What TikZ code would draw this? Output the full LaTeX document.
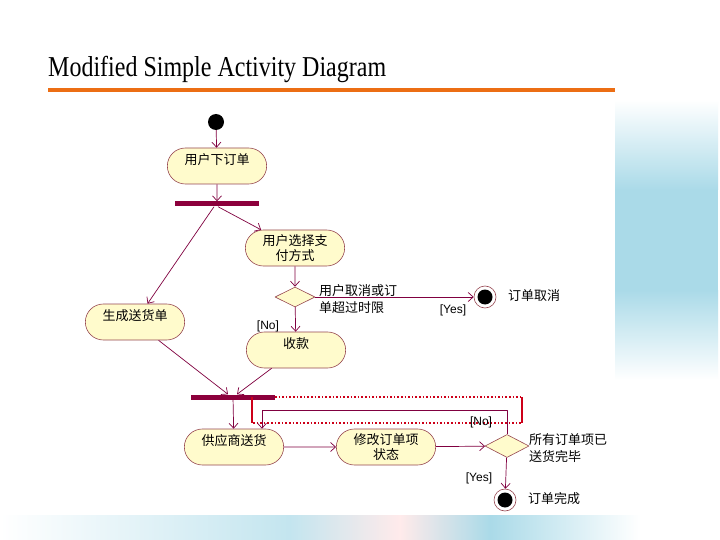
\documentclass[tikz,border=0pt]{standalone}
\usepackage{fontspec}
\setmainfont{Liberation Serif}
\newfontfamily\cjk{Noto Sans CJK SC}
\newfontfamily\lab{Liberation Sans}
\usepackage{tikz}
\usetikzlibrary{arrows.meta,shapes.geometric,shapes.misc}
\definecolor{flowc}{RGB}{128,0,64}
\definecolor{barc}{RGB}{140,0,60}
\definecolor{actfill}{RGB}{255,251,204}
\definecolor{actline}{RGB}{150,70,80}
\definecolor{hilite}{RGB}{205,0,25}
\definecolor{titleline}{RGB}{236,110,20}
\definecolor{skyc}{RGB}{170,218,232}

\begin{document}
\begin{tikzpicture}[x=1pt, y=-1pt, line join=round,
  act/.style={rounded rectangle, draw=actline, fill=actfill, line width=0.6pt,
    minimum width=106pt, minimum height=36pt, inner ysep=2pt,
    font=\cjk\fontsize{13}{15}\selectfont, align=center},
  upper/.style={text height=10pt, text depth=13pt},
  bar/.style={fill=barc, inner sep=0pt, minimum height=5pt},
  decision/.style={diamond, draw=actline, fill=actfill, line width=0.6pt, inner sep=0pt,
    minimum width=40pt, minimum height=20pt},
  startdot/.style={circle, fill=black, inner sep=0pt, minimum size=16pt},
  enddot/.style={circle, draw=actline, line width=0.6pt, fill=white, inner sep=0pt, minimum size=22pt,
    path picture={\fill[black] (path picture bounding box.center) circle (7.5pt);}},
  flow/.style={draw=flowc, line width=0.7pt, -{Straight Barb[length=5pt,width=9pt]}},
  guard/.style={font=\lab\fontsize{12}{14}\selectfont, inner sep=1pt},
  note/.style={font=\cjk\fontsize{13}{16.5}\selectfont, align=left, anchor=west, inner sep=0pt},
  hiline/.style={draw=hilite, line width=1.6pt, dotted},
  hibar/.style={draw=hilite, line width=2.2pt}]
  \useasboundingbox (0,0) rectangle (720,540);
  \fill[white] (0,0) rectangle (720,540);
  \shade[top color=white, bottom color=skyc] (612,100) rectangle (718,190);
  \fill[skyc] (612,190) rectangle (718,290);
  \shade[top color=skyc, bottom color=white] (612,290) rectangle (718,380);
  \shade[left color=white, right color=skyc!70] (0,515) rectangle (290,540);
  \shade[left color=skyc!70, right color=red!8] (290,515) rectangle (400,540);
  \shade[left color=red!8, right color=skyc] (400,515) rectangle (490,540);
  \shade[left color=skyc, right color=white] (490,515) rectangle (640,540);
  \fill[white] (80,100) rectangle (615,515);

  \node[anchor=base west, inner sep=0pt, yscale=1.2, transform shape, font=\fontsize{24}{28}\selectfont] (title) at (48,77) {Modified Simple Activity Diagram};
  \fill[titleline] (48,88) rectangle (615,92);

  \node[startdot] (start) at (216,122) {};
  \node[act, upper] (order) at (217,166) {用户下订单};
  \node[bar, minimum width=84pt] (fork1) at (217,204) {};
  \node[act] (pay) at (295,248) {用户选择支\\付方式};
  \node[act, upper] (ship) at (135,322) {生成送货单};
  \node[decision] (cancelq) at (295,297) {};
  \node[enddot] (cancelend) at (485,297) {};
  \node[act, upper] (collect) at (296,350) {收款};
  \node[bar, minimum width=84pt] (fork2) at (233,397) {};
  \node[act, upper] (supply) at (234,447) {供应商送货};
  \node[act] (modify) at (386,447) {修改订单项\\状态};
  \node[decision, minimum width=44pt, minimum height=23pt] (allq) at (507,446) {};
  \node[enddot] (doneend) at (505,500) {};
  \coordinate (loopc) at (262,410);

  \draw[hibar] (252,397) -- (252,423);
  \draw[hiline] (275,397) -- (522,397);
  \draw[hiline] (253,423) -- (522,423);
  \draw[hibar, line width=1.8pt] (522,397) -- (522,423);

  \draw[flow] (start) -- (order);
  \draw[flow] (order) -- (fork1);
  \draw[flow] ([xshift=1pt]fork1.south) -- (pay);
  \draw[flow] ([xshift=-3pt]fork1.south) -- (ship);
  \draw[flow] (pay) -- (cancelq);
  \draw[flow] (cancelq) -- (cancelend);
  \draw[flow] (cancelq) -- (collect);
  \draw[flow] (ship) -- ([xshift=-5pt]fork2.north);
  \draw[flow] (collect) -- ([xshift=4pt]fork2.north);
  \draw[flow] (fork2) -- (supply);
  \draw[flow] (allq.north) |- (loopc) -- (loopc |- supply.north);
  \draw[flow] (supply) -- (modify);
  \draw[flow] (modify) -- (allq);
  \draw[flow] (allq) -- (doneend);

  \node[guard] (nocollect) at (268,326) {[No]};
  \node[guard] (yescancel) at (453,310) {[Yes]};
  \node[guard] (noloop) at (481,422) {[No]};
  \node[guard] (yesdone) at (479,478) {[Yes]};
  \node[note] (cancelnote) at (319,299) {用户取消或订\\单超过时限};
  \node[note] (allnote) at (529,448) {所有订单项已\\送货完毕};
  \node[note] (cancellab) at (508,296) {订单取消};
  \node[note] (donelab) at (528,499) {订单完成};
\end{tikzpicture}
\end{document}
